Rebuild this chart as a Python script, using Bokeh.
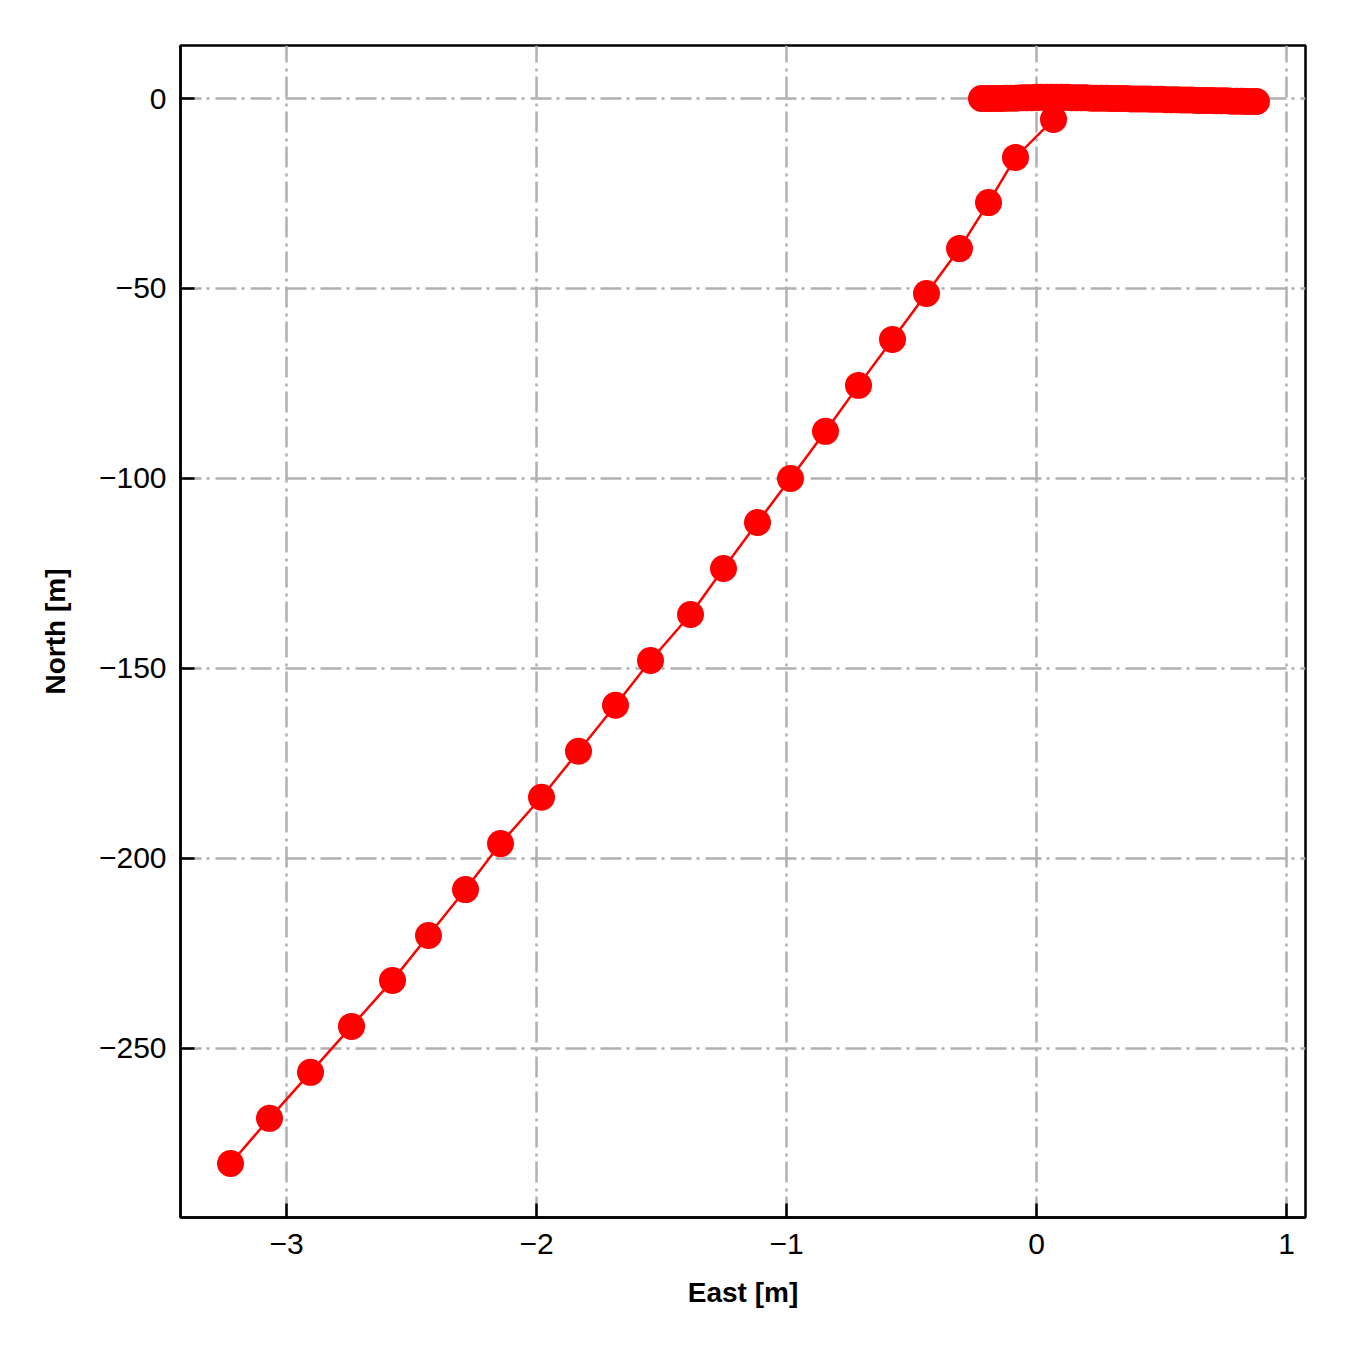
from bokeh.plotting import figure
from bokeh.models import FixedTicker, Range1d
from bokeh.embed import file_html
from bokeh.resources import INLINE

# Diagonal leg of the track (East [m], North [m])
diag_east = [-3.224, -3.068, -2.904, -2.740, -2.576, -2.432, -2.284, -2.144, -1.980, -1.832,
             -1.684, -1.544, -1.384, -1.252, -1.116, -0.984, -0.844, -0.712, -0.576, -0.440,
             -0.308, -0.192, -0.084, 0.068]
diag_north = [-280.3, -268.4, -256.3, -244.2, -232.1, -220.3, -208.2, -196.1, -183.9, -171.8,
              -159.7, -147.9, -135.8, -123.7, -111.6, -100.0, -87.6, -75.5, -63.4, -51.3,
              -39.5, -27.4, -15.5, -5.5]

# Dense cluster near North = 0
cluster_east = [0.06, 0.08, 0.10, 0.12, 0.14, 0.16, 0.18, 0.20, 0.22, 0.24, 0.26, 0.28, 0.30,
                0.32, 0.34, 0.36, 0.38, 0.40, 0.42, 0.44, 0.46, 0.48, 0.50, 0.52, 0.54, 0.56,
                0.58, 0.60, 0.62, 0.64, 0.66, 0.68, 0.70, 0.72, 0.74, 0.76, 0.78, 0.80, 0.82,
                0.84, 0.86, 0.88,
                0.04, 0.02, 0.00, -0.02, -0.04, -0.06, -0.08, -0.10, -0.12, -0.14, -0.16,
                -0.18, -0.20, -0.22]
cluster_north = [0.3, 0.3, 0.3, 0.3, 0.2, 0.2, 0.2, 0.2, 0.1, 0.1, 0.1, 0.1, 0.0,
                 0.0, 0.0, 0.0, -0.1, -0.1, -0.1, -0.1, -0.2, -0.2, -0.2, -0.3, -0.3, -0.3,
                 -0.4, -0.4, -0.4, -0.5, -0.5, -0.5, -0.5, -0.6, -0.6, -0.6, -0.7, -0.7, -0.7,
                 -0.8, -0.8, -0.8,
                 0.3, 0.3, 0.3, 0.2, 0.2, 0.2, 0.1, 0.1, 0.1, 0.0, 0.0,
                 0.0, 0.0, 0.0]

x_ticks = [-3, -2, -1, 0, 1]
x_tick_labels = ["\u22123", "\u22122", "\u22121", "0", "1"]
y_ticks = [0, -50, -100, -150, -200, -250]
y_tick_labels = ["0", "\u221250", "\u2212100", "\u2212150", "\u2212200", "\u2212250"]

p = figure(frame_width=1125, frame_height=1172, output_backend="svg", toolbar_location=None,
           x_range=Range1d(-3.424, 1.076), y_range=Range1d(-294.5, 13.95),
           min_border_left=180, min_border_top=45, min_border_right=37, min_border_bottom=120)
p.background_fill_color = "white"
p.border_fill_color = "white"
p.outline_line_color = "black"
p.outline_line_width = 2.5

east = diag_east + cluster_east
north = diag_north + cluster_north
p.line(east, north, line_color="#ff0000", line_width=2.5)
p.scatter(east, north, size=27, fill_color="#ff0000", line_color="#ff0000", line_width=0)

for ax, ticks, labels in ((p.xaxis[0], x_ticks, x_tick_labels), (p.yaxis[0], y_ticks, y_tick_labels)):
    ax.ticker = FixedTicker(ticks=ticks, minor_ticks=[])
    ax.major_label_overrides = {t: l for t, l in zip(ticks, labels)}
    ax.major_tick_in = 14
    ax.major_tick_out = 0
    ax.minor_tick_in = 0
    ax.minor_tick_out = 0
    ax.major_tick_line_width = 2.5
    ax.axis_line_width = 2.5
    ax.major_tick_line_color = "black"
    ax.major_label_text_font = "Liberation Sans"
    ax.major_label_text_font_size = "30px"
    ax.major_label_text_color = "black"
    ax.axis_label_text_font = "Liberation Sans"
    ax.axis_label_text_font_style = "bold"
    ax.axis_label_text_font_size = "28px"
    ax.axis_label_text_color = "black"

p.xaxis.axis_label = "East [m]"
p.yaxis.axis_label = "North [m]"
p.xaxis.major_label_standoff = 16
p.yaxis.major_label_standoff = 14
p.xaxis.axis_label_standoff = 20
p.yaxis.axis_label_standoff = 25

for g, ticks in ((p.xgrid[0], x_ticks), (p.ygrid[0], y_ticks)):
    g.ticker = FixedTicker(ticks=ticks)
    g.grid_line_color = "#b0b0b0"
    g.grid_line_width = 2.5
    g.grid_line_dash = "21 5 3 6"

open("out.html", "w").write(file_html(p, INLINE))
